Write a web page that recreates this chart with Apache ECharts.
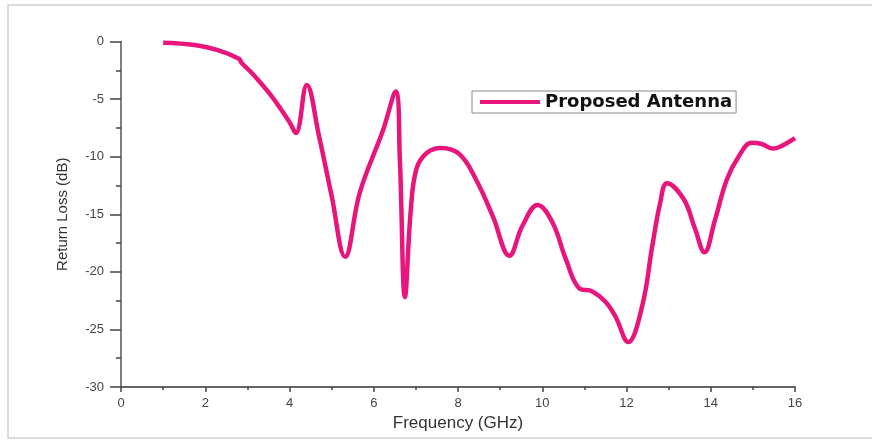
<!DOCTYPE html>
<html><head><meta charset="utf-8">
<script src="https://cdn.jsdelivr.net/npm/echarts@6/dist/echarts.min.js"></script>
<style>html,body{margin:0;padding:0;background:#fff}#c{width:872px;height:440px}</style>
</head><body><div id="c"></div>
<script>
const seriesName = 'Proposed Antenna';
const freq = [1.0,1.75,2.3,2.8,2.86,3.15,3.5,3.8,4.0,4.15,4.41,4.7,5.0,5.32,5.67,6.22,6.52,6.62,6.74,6.88,7.01,7.25,7.6,8.04,8.43,8.83,9.22,9.53,9.89,10.24,10.56,10.87,11.19,11.5,11.74,12.04,12.37,12.61,12.8,12.96,13.36,13.63,13.85,14.1,14.38,14.66,14.97,15.21,15.48,15.72,16.0];
const returnLoss = [-0.1,-0.3,-0.75,-1.5,-1.85,-2.9,-4.4,-5.9,-7.0,-7.95,-3.77,-8.2,-13.4,-18.7,-13.1,-7.7,-4.35,-10.3,-22.2,-14.6,-11.1,-9.7,-9.25,-9.8,-12.0,-15.2,-18.6,-16.0,-14.2,-15.7,-18.9,-21.4,-21.7,-22.6,-23.9,-26.1,-23.0,-17.8,-14.0,-12.3,-13.7,-16.3,-18.3,-15.5,-12.0,-10.0,-8.8,-8.9,-9.3,-9.0,-8.4];
const xTicks = [0,2,4,6,8,10,12,14,16];
const yTicks = [0,-5,-10,-15,-20,-25,-30];

const chart = echarts.init(document.getElementById('c'));
const font = 'Liberation Sans, Arial, sans-serif';
chart.setOption({
  animation: false,
  backgroundColor: '#fff',
  graphic: [{type:'rect', shape:{x:8,y:5,width:880,height:433}, style:{fill:'none', stroke:'#d0d0d0', lineWidth:1.5}, silent:true}],
  grid: {left:121, right:77, top:41.5, bottom:53},
  legend: {
    show: true, left: 472, top: 91, orient:'horizontal',
    data: [seriesName],
    borderColor: '#888', borderWidth: 1, padding: [2,4,2,8],
    itemWidth: 60, itemHeight: 4, itemGap: 3,
    textStyle: {fontFamily: 'DejaVu Sans', fontWeight: 'bold', fontSize: 18, color:'#111'},
    icon: 'rect'
  },
  xAxis: {
    type:'value', min:0, max:16, interval:2,
    name:'Frequency (GHz)', nameLocation:'middle', nameGap:26,
    nameTextStyle:{fontFamily:font, fontSize:17, color:'#333'},
    axisLine:{show:true, onZero:false, lineStyle:{color:'#666', width:2}},
    axisTick:{show:true, inside:false, length:5, lineStyle:{color:'#444', width:1.5}},
    minorTick:{show:true, splitNumber:2, length:3, lineStyle:{color:'#444', width:1.5}},
    axisLabel:{fontFamily:font, fontSize:13, color:'#444', margin:10},
    splitLine:{show:false}
  },
  yAxis: {
    type:'value', min:-30, max:0, interval:5,
    name:'Return Loss (dB)', nameLocation:'middle', nameGap:51, nameRotate:90,
    nameTextStyle:{fontFamily:font, fontSize:15, color:'#333'},
    axisLine:{show:true, onZero:false, lineStyle:{color:'#555', width:1.5}},
    axisTick:{show:true, length:11, lineStyle:{color:'#444', width:1.5}},
    minorTick:{show:true, splitNumber:2, length:5, lineStyle:{color:'#444', width:1.5}},
    axisLabel:{fontFamily:font, fontSize:13, color:'#444', margin:17},
    splitLine:{show:false}
  },
  series: [{
    name: seriesName, type:'line',
    data: freq.map((f,i)=>[f, returnLoss[i]]),
    showSymbol:false, smooth:0.4,
    lineStyle:{color:'#e8157c', width:4.5},
    itemStyle:{color:'#e8157c'}
  }]
});
</script></body></html>
